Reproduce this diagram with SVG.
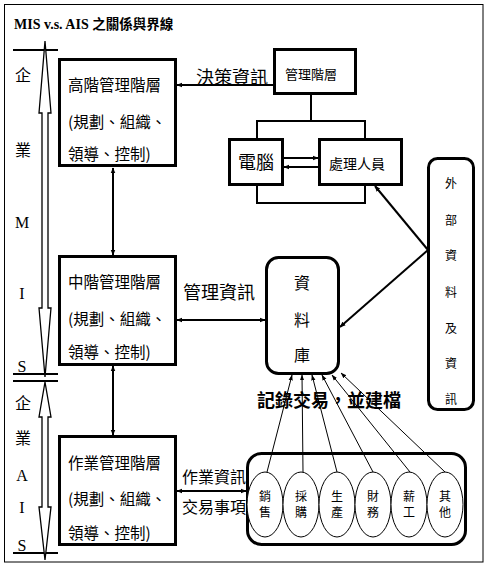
<svg xmlns="http://www.w3.org/2000/svg" width="487" height="569" viewBox="0 0 487 569">
<defs>
<marker id="ah" viewBox="0 0 10 10" refX="9" refY="5" markerWidth="6" markerHeight="6" orient="auto-start-reverse" markerUnits="userSpaceOnUse">
<path d="M0,1 L10,5 L0,9 z" fill="#000"/>
</marker>
<marker id="ahs" viewBox="0 0 10 10" refX="9" refY="5" markerWidth="6" markerHeight="6" orient="auto" markerUnits="userSpaceOnUse">
<path d="M0,1.5 L10,5 L0,8.5 z" fill="#000"/>
</marker>
<style>
.cjk{font-family:"Noto Sans CJK TC","Noto Sans CJK SC",sans-serif;fill:#000}
.lat{font-family:"Liberation Serif","Noto Sans CJK TC",serif;fill:#000}
.box{fill:#fff;stroke:#000;stroke-width:3}
.ln{fill:none;stroke:#000;stroke-width:2}
.thin{fill:none;stroke:#000;stroke-width:1}
.bar{stroke:#000;stroke-width:2}
.big{fill:#fff;stroke:#000;stroke-width:1.3}
</style>
</defs>
<rect x="0" y="0" width="487" height="569" fill="#fff"/>
<rect x="4.5" y="4.5" width="478.5" height="557.5" fill="none" stroke="#000" stroke-width="1"/>
<text x="14" y="29" font-size="14" font-weight="bold"><tspan class="lat">MIS v.s. AIS </tspan><tspan class="cjk" font-size="13.5">之關係與界線</tspan></text>

<g id="side-labels">
<line class="bar" x1="13" y1="50" x2="58" y2="50"/>
<line class="bar" x1="13" y1="374" x2="58" y2="374"/>
<line class="bar" x1="13" y1="381" x2="58" y2="381"/>
<line class="bar" x1="13" y1="553" x2="58" y2="553"/>
<polygon class="big" points="45,41 51,113 48,113 48,308 51,308 45,377 39,308 42,308 42,113 39,113"/>
<polygon class="big" points="45,382 51,417 48,417 48,507 51,507 45,560 39,507 42,507 42,417 39,417"/>
<g class="cjk" font-size="16" text-anchor="middle">
<text x="23" y="81">企</text>
<text x="23" y="156">業</text>
<text x="23" y="409">企</text>
<text x="23" y="444">業</text>
</g>
<g class="lat" font-size="16" text-anchor="middle">
<text x="22" y="228">M</text>
<text x="22" y="299">I</text>
<text x="22" y="372">S</text>
<text x="22" y="481">A</text>
<text x="22" y="513">I</text>
<text x="22" y="551">S</text>
</g>
</g>

<g id="top-mgmt">
<rect class="box" x="59.5" y="59.5" width="116" height="106"/>
<g class="cjk" font-size="15.5"><text x="68" y="91">高階管理階層</text><text x="68" y="128">(規劃、組織、</text><text x="68" y="160">領導、控制)</text></g>
</g>
<g id="mid-mgmt">
<rect class="box" x="59.5" y="256.5" width="116" height="108"/>
<g class="cjk" font-size="15.5"><text x="68" y="288">中階管理階層</text><text x="68" y="325">(規劃、組織、</text><text x="68" y="358">領導、控制)</text></g>
</g>
<g id="ops-mgmt">
<rect class="box" x="59.5" y="436.5" width="116" height="108"/>
<g class="cjk" font-size="15.5"><text x="68" y="469">作業管理階層</text><text x="68" y="505">(規劃、組織、</text><text x="68" y="539">領導、控制)</text></g>
</g>

<g id="mgmt-layer">
<rect class="box" x="274.5" y="49.5" width="81" height="44"/>
<text class="cjk" x="311" y="79" font-size="13" text-anchor="middle">管理階層</text>
</g>
<g id="computer">
<rect class="box" x="229.5" y="139.5" width="53" height="45"/>
<text class="cjk" x="256" y="169" font-size="18" text-anchor="middle">電腦</text>
</g>
<g id="staff">
<rect class="box" x="319.5" y="139.5" width="82" height="45"/>
<text class="cjk" x="357" y="169" font-size="14" text-anchor="middle">處理人員</text>
</g>
<g id="external">
<rect class="box" x="428.5" y="158.5" width="45" height="251" rx="9"/>
<g class="cjk" font-size="12" text-anchor="middle">
<text x="451" y="188">外</text><text x="451" y="225">部</text><text x="451" y="260">資</text><text x="451" y="297">料</text><text x="451" y="333">及</text><text x="451" y="368">資</text><text x="451" y="404">訊</text>
</g>
</g>
<g id="database">
<rect class="box" x="266.5" y="257.5" width="72" height="116" rx="12"/>
<g class="cjk" font-size="16" text-anchor="middle"><text x="302" y="289">資</text><text x="302" y="326">料</text><text x="302" y="361">庫</text></g>
</g>

<g id="transactions">
<rect class="box" x="247.5" y="453.5" width="218" height="91" rx="14"/>
<g fill="#fff" stroke="#000" stroke-width="1">
<ellipse cx="265" cy="504.5" rx="18" ry="32.5"/>
<ellipse cx="301" cy="504.5" rx="18" ry="32.5"/>
<ellipse cx="337" cy="504.5" rx="18" ry="32.5"/>
<ellipse cx="373" cy="504.5" rx="18" ry="32.5"/>
<ellipse cx="409" cy="504.5" rx="18" ry="32.5"/>
<ellipse cx="445" cy="504.5" rx="18" ry="32.5"/>
</g>
<g class="cjk" font-size="12" text-anchor="middle">
<text x="265" y="501">銷</text><text x="265" y="517">售</text>
<text x="301" y="501">採</text><text x="301" y="517">購</text>
<text x="337" y="501">生</text><text x="337" y="517">產</text>
<text x="373" y="501">財</text><text x="373" y="517">務</text>
<text x="409" y="501">薪</text><text x="409" y="517">工</text>
<text x="445" y="501">其</text><text x="445" y="517">他</text>
</g>
</g>

<g id="connectors">
<line class="ln" x1="113" y1="168" x2="113" y2="255" marker-start="url(#ah)" marker-end="url(#ah)"/>
<line class="ln" x1="113" y1="366" x2="113" y2="435" marker-start="url(#ah)" marker-end="url(#ah)"/>
<line class="ln" x1="273" y1="85" x2="177" y2="85" marker-end="url(#ah)"/>
<line class="ln" x1="177" y1="320" x2="265" y2="320" marker-start="url(#ah)" marker-end="url(#ah)"/>
<line class="ln" x1="177" y1="491" x2="246" y2="491" marker-start="url(#ah)" marker-end="url(#ah)"/>
<line class="ln" x1="311" y1="95" x2="311" y2="121"/>
<path class="ln" d="M257,138 V121 H365 V138 M257,186 V203 H365 V186"/>
<line class="ln" x1="284" y1="158" x2="318" y2="158" marker-end="url(#ah)"/>
<line class="ln" x1="318" y1="167" x2="284" y2="167" marker-end="url(#ah)"/>
<line class="ln" x1="428" y1="250" x2="375" y2="186" marker-end="url(#ah)"/>
<line class="ln" x1="428" y1="250" x2="340" y2="327" marker-end="url(#ah)"/>
<line class="thin" x1="267" y1="472" x2="292" y2="375" marker-end="url(#ahs)"/>
<line class="thin" x1="303" y1="472" x2="302" y2="375" marker-end="url(#ahs)"/>
<line class="thin" x1="337" y1="472" x2="312" y2="375" marker-end="url(#ahs)"/>
<line class="thin" x1="373" y1="472" x2="322" y2="375" marker-end="url(#ahs)"/>
<line class="thin" x1="410" y1="472" x2="332" y2="375" marker-end="url(#ahs)"/>
<line class="thin" x1="445" y1="472" x2="341" y2="373" marker-end="url(#ahs)"/>
</g>

<g id="labels" class="cjk">
<text x="196" y="84" font-size="18">決策資訊</text>
<text x="183" y="299" font-size="18">管理資訊</text>
<text x="182" y="483" font-size="16">作業資訊</text>
<text x="182" y="513" font-size="16">交易事項</text>
<text x="257" y="407" font-size="18" font-weight="bold">記錄交易，並建檔</text>
</g>
</svg>
